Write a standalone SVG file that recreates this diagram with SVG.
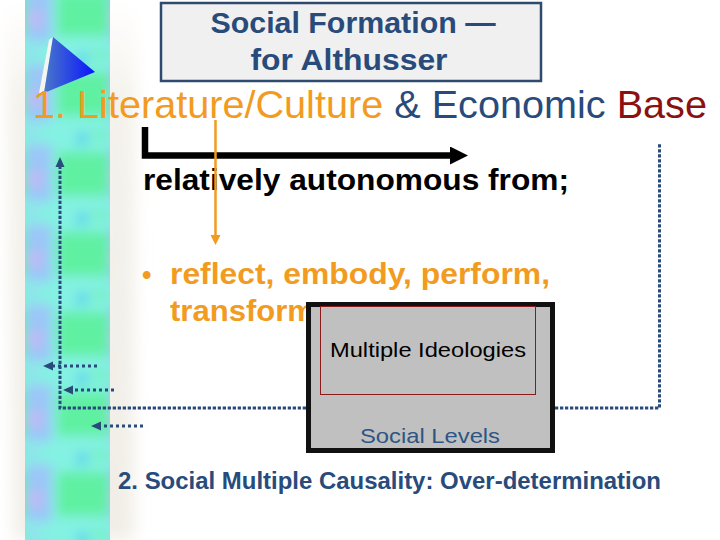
<svg xmlns="http://www.w3.org/2000/svg" width="720" height="540" viewBox="0 0 720 540">
<style>
.sans{font-family:"Liberation Sans",Arial,sans-serif}
.b{font-weight:bold}
.dk{fill:#284b7b}
.org{fill:#f29b21}
.dotted{fill:none;stroke:#284b7b;stroke-width:3;stroke-dasharray:3.3 1.7}
.short{fill:none;stroke:#284b7b;stroke-width:3;stroke-dasharray:3 3}
</style>
<defs>
<filter id="blur" x="-20%" y="-5%" width="140%" height="110%"><feGaussianBlur stdDeviation="6"/></filter>
<filter id="soft" x="-20%" y="-20%" width="140%" height="140%"><feGaussianBlur stdDeviation="8"/></filter>
<clipPath id="stripClip"><rect x="25" y="0" width="85" height="540"/></clipPath>
<pattern id="tex" patternUnits="userSpaceOnUse" x="25" y="-30" width="85" height="80">
<rect x="0" y="0" width="85" height="80" fill="#84f2e2"/>
<rect x="-5" y="14" width="32" height="58" fill="#9cc6f8"/>
<rect x="3" y="42" width="14" height="14" fill="#c6b6f4"/>
<rect x="32" y="22" width="53" height="44" fill="#60f0a2"/>
<rect x="52" y="2" width="10" height="14" fill="#5ad2ea"/>
<rect x="-3" y="0" width="18" height="5" fill="#a0caf8"/>
<rect x="66" y="0" width="19" height="10" fill="#74f0c4"/>
</pattern>
<linearGradient id="triG" x1="0" y1="0" x2="1" y2="0">
<stop offset="0" stop-color="#4a78c8"/>
<stop offset="1" stop-color="#0a14ff"/>
</linearGradient>
<linearGradient id="beigeG" x1="0" y1="0" x2="0" y2="1">
<stop offset="0" stop-color="#f5f3ed" stop-opacity="0"/>
<stop offset="0.18" stop-color="#f4f2ec" stop-opacity="1"/>
<stop offset="1" stop-color="#f1eee7" stop-opacity="1"/>
</linearGradient>
<marker id="hBlack" markerUnits="userSpaceOnUse" markerWidth="18" markerHeight="18" viewBox="0 0 18 18" refX="1" refY="9" orient="auto"><path d="M0,0 L18,9 L0,18z" fill="#000"/></marker>
<marker id="hOrange" markerUnits="userSpaceOnUse" markerWidth="10" markerHeight="10" viewBox="0 0 10 10" refX="1" refY="5" orient="auto"><path d="M0,0 L10,5 L0,10z" fill="#f29b21"/></marker>
<marker id="hBlue" markerUnits="userSpaceOnUse" markerWidth="10" markerHeight="10" viewBox="0 0 10 10" refX="1" refY="5" orient="auto"><path d="M0,0.5 L10,5 L0,9.5z" fill="#284b7b"/></marker>
</defs>

<rect width="720" height="540" fill="#ffffff"/>
<g id="background">
<polygon points="6,0 136,0 134,540 14,540" fill="url(#beigeG)" filter="url(#soft)"/>
<rect x="25" y="0" width="85" height="540" fill="#84f2e2"/>
<g clip-path="url(#stripClip)">
<rect x="10" y="-20" width="110" height="580" fill="url(#tex)" filter="url(#blur)"/>
</g>
<polygon points="49,40 53,37 44,93 39,93" fill="#f4f4f0"/>
<polygon points="53,37 95,72 44,93" fill="url(#triG)"/>
</g>

<g id="title">
<rect x="161" y="3" width="380" height="78" fill="#f0f0f0" stroke="#2e4a6e" stroke-width="2.5"/>
<text class="sans b dk" x="353" y="33" font-size="29" text-anchor="middle" textLength="285" lengthAdjust="spacingAndGlyphs">Social Formation —</text>
<text class="sans b dk" x="349" y="70" font-size="29" text-anchor="middle" textLength="197" lengthAdjust="spacingAndGlyphs">for Althusser</text>
</g>

<g id="heading">
<text class="sans" x="33" y="118" font-size="39.5" textLength="674" lengthAdjust="spacingAndGlyphs"><tspan fill="#f29b21">1. Literature/Culture</tspan><tspan fill="#284b7b"> &amp; Economic </tspan><tspan fill="#8c1010">Base</tspan></text>
</g>

<g id="autonomous">
<text class="sans b" x="143" y="190" font-size="30" fill="#000" textLength="426" lengthAdjust="spacingAndGlyphs">relatively autonomous from;</text>
</g>

<g id="bullet">
<text class="sans b org" x="142" y="284" font-size="27">•</text>
<text class="sans b org" x="170" y="284" font-size="30" textLength="380" lengthAdjust="spacingAndGlyphs">reflect, embody, perform,</text>
<text class="sans b org" x="170" y="321" font-size="30" textLength="145" lengthAdjust="spacingAndGlyphs">transform</text>
</g>

<g id="connectors">
<path d="M145,127 V155.5 H451" fill="none" stroke="#000" stroke-width="6.5" marker-end="url(#hBlack)"/>
<path class="dotted" d="M306,408 H60 V166" marker-end="url(#hBlue)"/>
<path class="dotted" d="M555,408 H659.5 V143"/>
<path class="short" d="M97,366 H52" marker-end="url(#hBlue)"/>
<path class="short" d="M114,390 H72" marker-end="url(#hBlue)"/>
<path class="short" d="M143,426 H100" marker-end="url(#hBlue)"/>
<path d="M215.5,120 V236" fill="none" stroke="#f29b21" stroke-width="2.5" marker-end="url(#hOrange)"/>
</g>

<g id="social-levels">
<rect x="308.5" y="304.5" width="244" height="146" fill="#c0c0c0" stroke="#111" stroke-width="5"/>
<rect x="320.5" y="306.5" width="215" height="88" fill="none" stroke="#8b1a1a" stroke-width="1"/>
<text class="sans" x="428" y="357" font-size="21" fill="#000" text-anchor="middle" textLength="196" lengthAdjust="spacingAndGlyphs">Multiple Ideologies</text>
<text class="sans" x="430" y="443" font-size="21" fill="#2e5584" text-anchor="middle" textLength="140" lengthAdjust="spacingAndGlyphs">Social Levels</text>
</g>

<g id="causality">
<text class="sans b dk" x="118" y="489" font-size="24.5" textLength="543" lengthAdjust="spacingAndGlyphs">2. Social Multiple Causality: Over-determination</text>
</g>
</svg>
